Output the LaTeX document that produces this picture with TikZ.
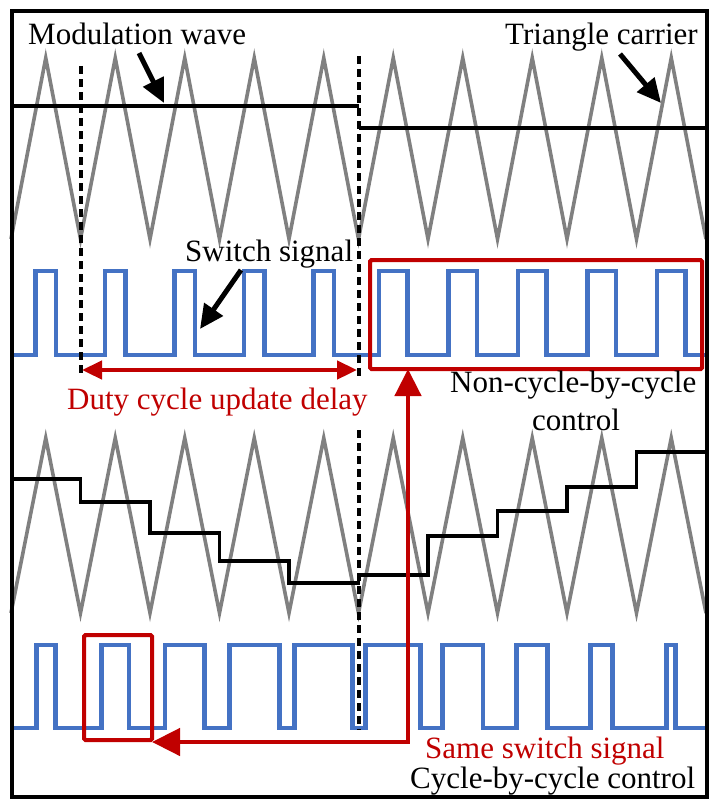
\documentclass[tikz,border=0pt]{standalone}
\usepackage{fontspec}
\setmainfont{Liberation Serif}
\usetikzlibrary{arrows.meta}
\definecolor{cargray}{HTML}{808080}
\definecolor{sigblue}{HTML}{4472C4}
\definecolor{hired}{HTML}{C00000}
\begin{document}
\begin{tikzpicture}[x=1pt,y=-1pt,
  carrier/.style={cargray, line width=3.6pt, line join=miter},
  modwave/.style={black, line width=3.4pt},
  sig/.style={sigblue, line width=4.8pt},
  guide/.style={black, line width=4pt, dash pattern=on 8pt off 5pt},
  callout/.style={black, line width=5pt, -{Triangle[length=24pt,width=22pt]}},
  hbox/.style={draw=hired, line width=4.2pt, rounded corners=1.5pt, inner sep=0pt, anchor=north west},
  redarrow/.style={hired, line width=4.6pt},
  lbl/.style={font=\fontsize{31}{36}\selectfont, inner sep=0pt, anchor=base west},
]
\useasboundingbox (0,0) rectangle (718,808);

% ---------- top: carrier, modulation, switch signal ----------
\draw[carrier] (11,239) \foreach \k in {0,...,9}{ -- ({45.75+69.5*\k},58) -- ({80.5+69.5*\k},239) };
\draw[modwave] (12,106) -- (358.5,106);
\draw[modwave] (358.5,128) -- (706,128);
\draw[sig] (12,355) \foreach \c/\h in {45.75/10.2,115.25/10.2,184.75/10.2,254.25/10.2,323.75/10.2,393.25/14.2,462.75/14.2,532.25/14.2,601.75/14.2,671.25/14.2}
  { -- ({\c-\h},355) -- ({\c-\h},271) -- ({\c+\h},271) -- ({\c+\h},355) } -- (706,355);

% ---------- bottom: carrier, stepped modulation, switch signal ----------
\draw[carrier] (11,613) \foreach \k in {0,...,9}{ -- ({45.75+69.5*\k},438) -- ({80.5+69.5*\k},613) };
\draw[modwave, line width=3.8pt] (12,479) -- (80.5,479) -- (80.5,502) -- (150,502) -- (150,533) -- (219.5,533)
  -- (219.5,561) -- (289,561) -- (289,583) -- (358.5,583) -- (358.5,575) -- (428,575) -- (428,536)
  -- (497.5,536) -- (497.5,511) -- (567,511) -- (567,487) -- (636.5,487) -- (636.5,452) -- (706,452);
\draw[sig] (12,728) \foreach \c/\h in {45.75/9.5,115.25/13.8,184.75/19.7,254.25/25.0,323.75/29.1,393.25/27.6,462.75/20.2,532.25/15.5,601.75/11.0,671.25/4.6}
  { -- ({\c-\h},728) -- ({\c-\h},645) -- ({\c+\h},645) -- ({\c+\h},728) } -- (706,728);

% ---------- guides ----------
\draw[guide] (80.5,66) -- (80.5,377);
\draw[guide] (358.5,56) -- (358.5,377);
\draw[guide] (358.5,430) -- (358.5,730);

% ---------- highlight boxes ----------
\node[hbox, minimum width=332pt, minimum height=109pt] (bigbox) at (368,258) {};
\node[hbox, minimum width=68pt, minimum height=105pt] (smallbox) at (82,633) {};

% ---------- labels ----------
\node[lbl] (mw) at (28,45) {Modulation wave};
\node[lbl] (tc) at (505,45) {Triangle carrier};
\node[lbl] (ss) at (185,261) {Switch signal};
\node[lbl, text=hired] (dc) at (67,409) {Duty cycle update delay};
\node[lbl] (nc) at (450,392) {Non-cycle-by-cycle};
\node[lbl, anchor=base] (ncc) at (576,430) {control};
\node[lbl, text=hired] (same) at (425,758) {Same switch signal};
\node[lbl] (cbc) at (410,788) {Cycle-by-cycle control};

% ---------- callout arrows ----------
\coordinate (mwT) at (139,53);  \coordinate (mwH) at (164,103);
\coordinate (tcT) at (620,54);  \coordinate (tcH) at (661,103);
\coordinate (ssT) at (241,270); \coordinate (ssH) at (200,329);
\draw[callout] (mwT) -- (mwH);
\draw[callout] (tcT) -- (tcH);
\draw[callout] (ssT) -- (ssH);

% ---------- red arrows ----------
\coordinate (dL) at (82,370);
\coordinate (dR) at (357,370);
\draw[redarrow, {Triangle[length=20pt,width=18pt]}-{Triangle[length=20pt,width=18pt]}] (dL) -- (dR);
\coordinate (upTip) at (408,369);
\coordinate (corner) at (408,742);
\coordinate (leftTip) at (152,742);
\draw[redarrow, line join=miter, {Triangle[length=27pt,width=26pt]}-{Triangle[length=28pt,width=27pt]}] (upTip) -- (corner) -- (leftTip);

% ---------- frame ----------
\draw[line width=4pt] (12,11) rectangle (707,797);
\end{tikzpicture}
\end{document}
